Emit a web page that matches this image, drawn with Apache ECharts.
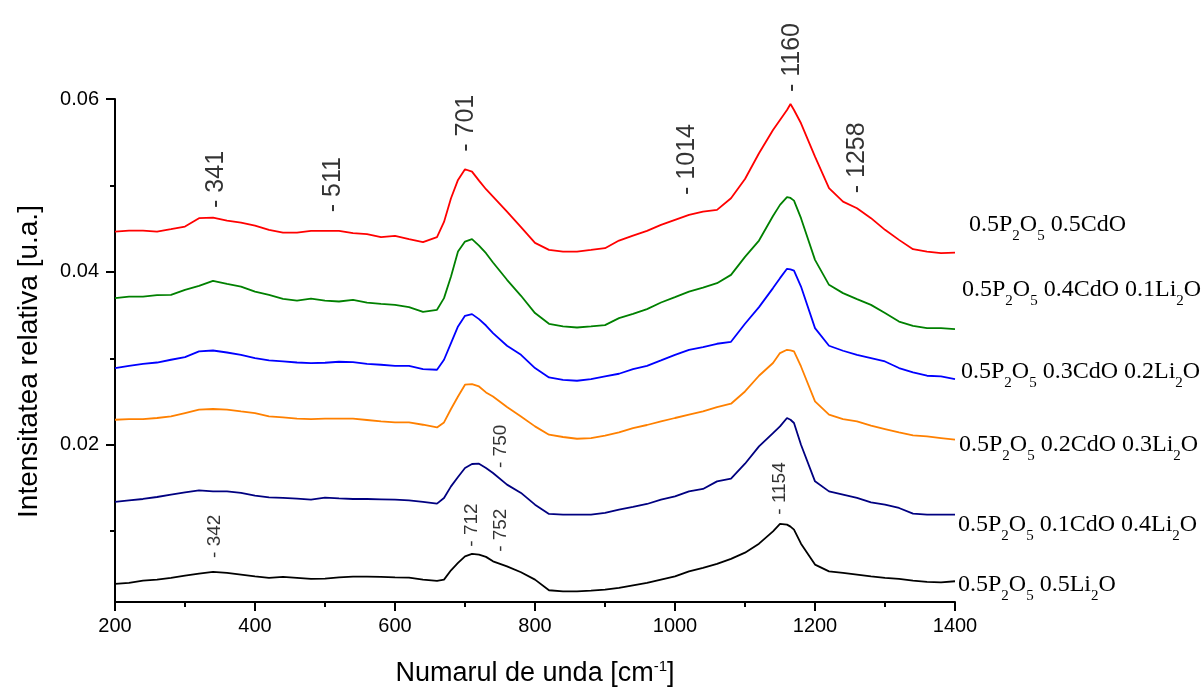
<!DOCTYPE html>
<html>
<head>
<meta charset="utf-8">
<script src="https://cdn.jsdelivr.net/npm/echarts@6/dist/echarts.min.js"></script>
<style>html,body{margin:0;padding:0;background:#fff}#chart{width:1204px;height:688px}</style>
</head>
<body>
<div id="chart"></div>
<script>
// wavenumber samples [cm-1]
const wavenumber = [200,220,240,260,280,300,320,340,360,380,400,420,440,460,480,500,
  520,540,560,580,600,620,640,660,
  670,680,690,700,710,720,730,740,
  760,780,800,820,840,860,880,900,920,940,960,980,1000,1020,1040,1060,1080,1100,
  1120,1140,1150,1160,1165,1170,1180,
  1200,1220,1240,1260,1280,1300,1320,1340,1360,1380,1400];

// 0.5P2O5 0.5CdO
const cdo50 = [0.04466,0.04477,0.04477,0.04466,0.04494,0.04524,0.04621,0.04628,0.04593,0.04570,0.04535,0.04486,0.04454,0.04454,0.04474,0.04474,
  0.04474,0.04447,0.04436,0.04401,0.04416,0.04378,0.04343,0.04401,
  0.04578,0.04852,0.05064,0.05187,0.05160,0.05055,0.04956,0.04871,
  0.04697,0.04517,0.04335,0.04254,0.04235,0.04235,0.04254,0.04274,0.04362,0.04420,0.04474,0.04543,0.04601,0.04659,0.04697,0.04717,0.04852,0.05075,
  0.05372,0.05642,0.05757,0.05873,0.05942,0.05873,0.05719,
  0.05333,0.04968,0.04813,0.04736,0.04621,0.04486,0.04370,0.04262,0.04235,0.04216,0.04223];
// 0.5P2O5 0.4CdO 0.1Li2O
const cdo40li10 = [0.03696,0.03714,0.03714,0.03731,0.03734,0.03792,0.03838,0.03896,0.03861,0.03830,0.03772,0.03734,0.03688,0.03668,0.03691,0.03668,
  0.03657,0.03676,0.03645,0.03630,0.03618,0.03592,0.03538,0.03561,
  0.03696,0.03946,0.04235,0.04350,0.04378,0.04304,0.04216,0.04108,
  0.03908,0.03723,0.03523,0.03399,0.03368,0.03356,0.03368,0.03384,0.03465,0.03514,0.03569,0.03645,0.03708,0.03772,0.03818,0.03869,0.03965,0.04173,
  0.04362,0.04647,0.04775,0.04864,0.04855,0.04824,0.04621,
  0.04139,0.03850,0.03754,0.03684,0.03618,0.03523,0.03425,0.03376,0.03349,0.03349,0.03338];
// 0.5P2O5 0.3CdO 0.2Li2O
const cdo30li20 = [0.02887,0.02913,0.02936,0.02951,0.02983,0.03014,0.03079,0.03090,0.03067,0.03040,0.03002,0.02975,0.02963,0.02951,0.02945,0.02948,
  0.02960,0.02956,0.02936,0.02925,0.02913,0.02913,0.02875,0.02867,
  0.02983,0.03176,0.03368,0.03491,0.03511,0.03453,0.03379,0.03291,
  0.03145,0.03040,0.02887,0.02778,0.02751,0.02740,0.02759,0.02790,0.02821,0.02875,0.02913,0.02975,0.03040,0.03098,0.03129,0.03168,0.03191,0.03399,
  0.03592,0.03812,0.03927,0.04035,0.04029,0.04015,0.03830,
  0.03349,0.03145,0.03087,0.03040,0.03002,0.02963,0.02887,0.02836,0.02798,0.02790,0.02759];
// 0.5P2O5 0.2CdO 0.3Li2O
const cdo20li30 = [0.02289,0.02297,0.02297,0.02309,0.02327,0.02366,0.02405,0.02413,0.02405,0.02385,0.02366,0.02327,0.02316,0.02301,0.02297,0.02301,
  0.02301,0.02301,0.02286,0.02269,0.02258,0.02258,0.02231,0.02200,
  0.02258,0.02413,0.02558,0.02694,0.02702,0.02674,0.02605,0.02558,
  0.02436,0.02327,0.02212,0.02116,0.02089,0.02069,0.02077,0.02104,0.02142,0.02193,0.02228,0.02269,0.02309,0.02347,0.02385,0.02436,0.02474,0.02616,
  0.02798,0.02945,0.03060,0.03098,0.03092,0.03079,0.02905,
  0.02501,0.02347,0.02297,0.02269,0.02220,0.02181,0.02142,0.02108,0.02096,0.02077,0.02058];
// 0.5P2O5 0.1CdO 0.4Li2O
const cdo10li40 = [0.01338,0.01356,0.01372,0.01395,0.01422,0.01449,0.01472,0.01460,0.01460,0.01442,0.01410,0.01391,0.01384,0.01376,0.01364,0.01387,
  0.01379,0.01372,0.01372,0.01368,0.01364,0.01356,0.01338,0.01318,
  0.01384,0.01518,0.01627,0.01731,0.01777,0.01780,0.01731,0.01673,
  0.01538,0.01442,0.01306,0.01199,0.01191,0.01191,0.01191,0.01210,0.01249,0.01280,0.01314,0.01364,0.01402,0.01460,0.01488,0.01576,0.01607,0.01780,
  0.01980,0.02135,0.02212,0.02309,0.02289,0.02251,0.02000,
  0.01576,0.01460,0.01422,0.01384,0.01333,0.01306,0.01268,0.01202,0.01191,0.01191,0.01191];
// 0.5P2O5 0.5Li2O
const li50 = [0.00390,0.00401,0.00428,0.00439,0.00459,0.00486,0.00509,0.00528,0.00517,0.00497,0.00477,0.00459,0.00471,0.00459,0.00447,0.00451,
  0.00466,0.00474,0.00474,0.00471,0.00466,0.00462,0.00439,0.00424,
  0.00439,0.00547,0.00632,0.00709,0.00736,0.00728,0.00702,0.00651,
  0.00593,0.00524,0.00439,0.00316,0.00304,0.00304,0.00312,0.00324,0.00343,0.00373,0.00401,0.00439,0.00477,0.00535,0.00575,0.00621,0.00679,0.00751,
  0.00855,0.00998,0.01083,0.01075,0.01052,0.01017,0.00855,
  0.00613,0.00535,0.00517,0.00497,0.00477,0.00459,0.00447,0.00428,0.00413,0.00408,0.00420];

const sampleNames = ['0.5P2O5 0.5CdO','0.5P2O5 0.4CdO 0.1Li2O','0.5P2O5 0.3CdO 0.2Li2O',
  '0.5P2O5 0.2CdO 0.3Li2O','0.5P2O5 0.1CdO 0.4Li2O','0.5P2O5 0.5Li2O'];

// peak annotations (label anchor = start of the dash)
const peakTopText = ['- 341','- 511','- 701','- 1014','- 1160','- 1258'];
const peakTopX = [344,511,701,1017,1167,1260];
const peakTopY = [0.0474,0.0469,0.0539,0.0489,0.0608,0.0491];
const peakLowText = ['- 342','- 712','- 752','- 750','- 1154'];
const peakLowX = [343,709,751,751,1150];
const peakLowY = [0.0069,0.0082,0.0076,0.0173,0.0119];

const yMajor = [0.02,0.04,0.06];
const yMinor = [0.01,0.03,0.05];

const SANS = '"Liberation Sans", Arial, sans-serif';
const SERIF = '"Liberation Serif", "Times New Roman", serif';
const colors = ['#ff0000','#008000','#0000ff','#ff8000','#000080','#000000'];
const yMin = 0.0018, yMax = 0.06;

const allValues = [cdo50, cdo40li10, cdo30li20, cdo20li30, cdo10li40, li50];
const lineSeries = allValues.map((vals, i) => ({
  type: 'line', name: sampleNames[i],
  data: wavenumber.map((x, j) => [x, vals[j]]),
  showSymbol: false, symbol: 'none', smooth: false, animation: false,
  lineStyle: { color: colors[i], width: 1.8 }, itemStyle: { color: colors[i] }
}));

function annSeries(xs, ys, texts, size) {
  return {
    type: 'scatter', symbolSize: 0, clip: false, silent: true, animation: false,
    data: xs.map((x, i) => [x, ys[i], texts[i]]),
    label: { show: true, position: 'inside', formatter: p => p.data[2], rotate: 90,
      align: 'left', verticalAlign: 'middle', fontSize: size, fontFamily: SANS, color: '#000' }
  };
}

const legendPos = [[969,225],[962,290],[961,372],[959,445],[958,525],[958,585]];
const graphics = sampleNames.map((n, i) => ({
  type: 'text', x: legendPos[i][0], y: legendPos[i][1], silent: true,
  style: {
    text: n.replace(/(P|O|Li)(\d)/g, '$1{s|$2}'),
    fontSize: 24, fontFamily: SERIF, fill: '#000', lineHeight: 24,
    align: 'left', verticalAlign: 'middle',
    rich: { s: { fontSize: 15, fontFamily: SERIF, fill: '#000', lineHeight: 1, padding: [23, 0, 0, 0] } }
  }
}));

const chart = echarts.init(document.getElementById('chart'), null, { renderer: 'canvas' });
chart.setOption({
  backgroundColor: '#ffffff',
  animation: false,
  grid: { left: 115, right: 249, top: 99, bottom: 86, containLabel: false, outerBoundsMode: 'none' },
  xAxis: {
    type: 'value', min: 200, max: 1400, interval: 200,
    axisLine: { show: true, onZero: false, lineStyle: { color: '#000', width: 2 } },
    axisTick: { show: true, inside: false, length: 9, lineStyle: { color: '#000', width: 2 } },
    minorTick: { show: true, splitNumber: 2, length: 5, lineStyle: { color: '#000', width: 2 } },
    axisLabel: { formatter: v => String(v), fontSize: 20, fontFamily: SANS, color: '#000', margin: 14 },
    splitLine: { show: false }, minorSplitLine: { show: false },
    name: 'Numarul de unda [cm{sup|-1}]', nameLocation: 'middle', nameGap: 57,
    nameTextStyle: { fontSize: 27, fontFamily: SANS, color: '#000', lineHeight: 30,
      rich: { sup: { fontSize: 15, fontFamily: SANS, color: '#000', lineHeight: 12, verticalAlign: 'top' } } }
  },
  yAxis: [{
    type: 'value', min: yMin, max: yMax, position: 'left',
    axisLine: { show: true, onZero: false, lineStyle: { color: '#000', width: 2 } },
    axisTick: { show: true, inside: false, length: 9, customValues: yMajor, lineStyle: { color: '#000', width: 2 } },
    axisLabel: { customValues: yMajor, formatter: v => v.toFixed(2), fontSize: 20, fontFamily: SANS, color: '#000', margin: 16 },
    splitLine: { show: false },
    name: 'Intensitatea relativa [u.a.]', nameLocation: 'middle', nameGap: 72, nameRotate: 90,
    nameTextStyle: { fontSize: 28, fontFamily: SANS, color: '#000', padding: [0, 22, 0, 0] }
  }, {
    type: 'value', min: yMin, max: yMax, position: 'left',
    axisLine: { show: false },
    axisTick: { show: true, inside: false, length: 5, customValues: yMinor, lineStyle: { color: '#000', width: 2 } },
    axisLabel: { show: false }, splitLine: { show: false }
  }],
  series: lineSeries.concat([
    annSeries(peakTopX, peakTopY, peakTopText, 25),
    annSeries(peakLowX, peakLowY, peakLowText, 19)
  ]),
  graphic: graphics
});
</script>
</body>
</html>
